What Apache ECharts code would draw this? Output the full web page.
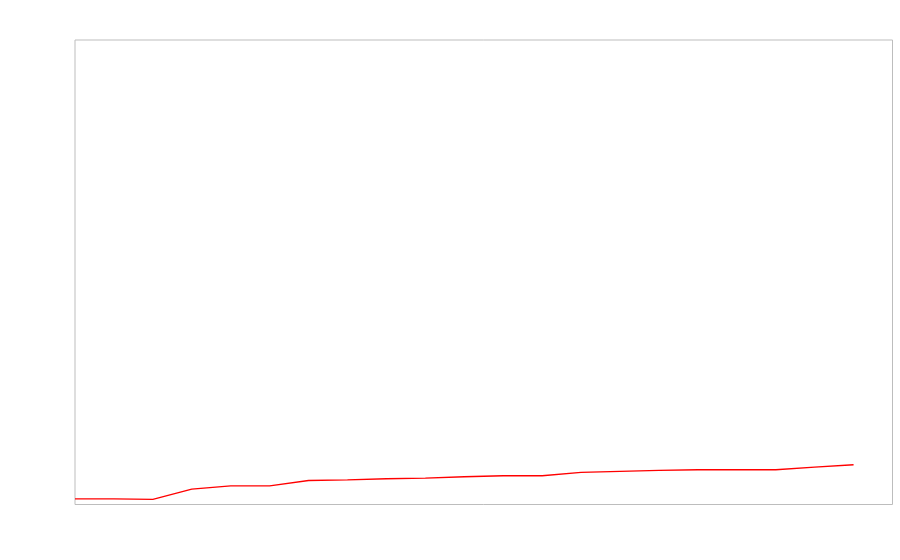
<!DOCTYPE html>
<html>
<head>
<meta charset="utf-8">
<script src="https://cdn.jsdelivr.net/npm/echarts@6/dist/echarts.min.js"></script>
<style>html,body{margin:0;padding:0;background:#fff;}#c{width:900px;height:560px;}</style>
</head>
<body>
<div id="c"></div>
<script>
var categories = ['1','2','3','4','5','6','7','8','9','10','11','12','13','14','15','16','17','18','19','20','21','22'];
var values = [1.23, 1.19, 1.12, 3.3, 4.03, 4.03, 5.17, 5.32, 5.54, 5.67, 5.97, 6.19, 6.19, 6.9, 7.11, 7.33, 7.48, 7.48, 7.48, 8.04, 8.56, null];

var chart = echarts.init(document.getElementById('c'), null, {renderer: 'canvas'});
chart.setOption({
  animation: false,
  backgroundColor: '#ffffff',
  grid: {left: 75, top: 40, right: 7.5, bottom: 55.5, show: true, borderColor: '#bdbdbd', borderWidth: 1, backgroundColor: 'transparent'},
  xAxis: {type: 'category', data: categories, boundaryGap: false,
    axisLine: {show: false}, axisTick: {show: false}, axisLabel: {show: false}, splitLine: {show: false}},
  yAxis: {type: 'value', min: 0, max: 100,
    axisLine: {show: false}, axisTick: {show: false}, axisLabel: {show: false}, splitLine: {show: false}},
  series: [{type: 'line', data: values, showSymbol: false, symbol: 'none',
    lineStyle: {color: '#ff0000', width: 1.3}, itemStyle: {color: '#ff0000'}}]
});
</script>
</body>
</html>
